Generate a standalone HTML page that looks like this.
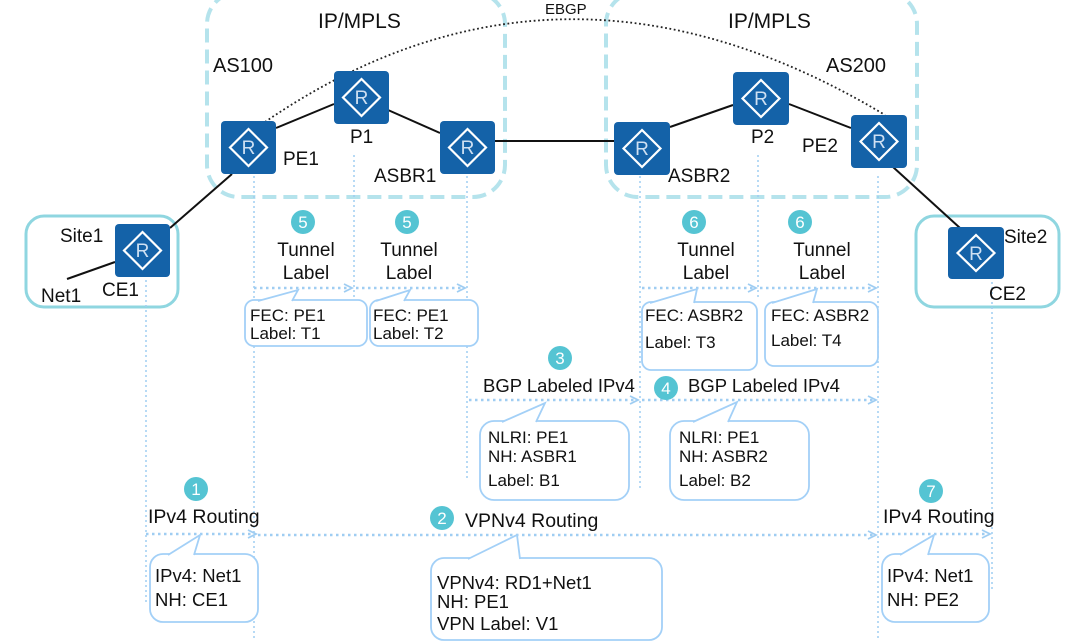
<!DOCTYPE html>
<html><head><meta charset="utf-8"><style>
html,body{margin:0;padding:0;background:#fff;}
svg{display:block;font-family:"Liberation Sans",sans-serif;}
</style></head><body>
<svg width="1070" height="643" viewBox="0 0 1070 643" xmlns="http://www.w3.org/2000/svg">
<rect x="207" y="-8" width="298" height="205" rx="32" fill="none" stroke="#b5e3ec" stroke-width="4" stroke-dasharray="14,7"/>
<rect x="606" y="-8" width="311" height="205" rx="32" fill="none" stroke="#b5e3ec" stroke-width="4" stroke-dasharray="14,7"/>
<rect x="26" y="216" width="152" height="91" rx="18" fill="none" stroke="#8fd6e0" stroke-width="3"/>
<rect x="916" y="216" width="143" height="91" rx="18" fill="none" stroke="#8fd6e0" stroke-width="3"/>
<path d="M265,122 Q560,-80 885,115" fill="none" stroke="#222" stroke-width="1.8" stroke-dasharray="1.8,2.6"/>
<g stroke="#111" stroke-width="2">
<line x1="67" y1="279" x2="115" y2="262"/>
<line x1="170" y1="228" x2="232" y2="174"/>
<line x1="276" y1="128" x2="334" y2="104"/>
<line x1="388" y1="110" x2="440" y2="133"/>
<line x1="495" y1="141" x2="614" y2="141"/>
<line x1="670" y1="127" x2="733" y2="105"/>
<line x1="789" y1="104" x2="851" y2="128"/>
<line x1="893" y1="167" x2="960" y2="228"/>
</g>
<g stroke="#9fcdf2" stroke-width="1.5" stroke-dasharray="2,3">
<line x1="146" y1="280" x2="146" y2="605"/>
<line x1="254" y1="176" x2="254" y2="640"/>
<line x1="354" y1="155" x2="354" y2="300"/>
<line x1="467" y1="176" x2="467" y2="480"/>
<line x1="640" y1="176" x2="640" y2="490"/>
<line x1="758" y1="155" x2="758" y2="300"/>
<line x1="878" y1="176" x2="878" y2="640"/>
<line x1="992" y1="282" x2="992" y2="590"/>
</g>
<g stroke="#9fcdf2" stroke-width="2.5" stroke-dasharray="2.5,3.5" fill="none">
<line x1="254" y1="288" x2="350" y2="288"/>
<line x1="356" y1="288" x2="463" y2="288"/>
<line x1="642" y1="288" x2="754" y2="288"/>
<line x1="760" y1="288" x2="874" y2="288"/>
<line x1="469" y1="400" x2="636" y2="400"/>
<line x1="642" y1="400" x2="874" y2="400"/>
<line x1="146" y1="534" x2="254" y2="534"/>
<line x1="258" y1="535" x2="874" y2="535"/>
<line x1="880" y1="534" x2="988" y2="534"/>
</g>
<g stroke="#9fcdf2" stroke-width="1.8" fill="none">
<polyline points="344,284 352,288 344,292"/>
<polyline points="457,284 465,288 457,292"/>
<polyline points="748,284 756,288 748,292"/>
<polyline points="868,284 876,288 868,292"/>
<polyline points="630,396 638,400 630,404"/>
<polyline points="868,396 876,400 868,404"/>
<polyline points="248,530 256,534 248,538"/>
<polyline points="868,531 876,535 868,539"/>
<polyline points="982,530 990,534 982,538"/>
</g>
<g font-size="19" fill="#cfe0f2" text-anchor="middle">
<g transform="translate(115,224)"><rect width="55" height="53" rx="4" fill="#1462a8"/><polygon points="27.5,8 46,26.5 27.5,45 9,26.5" fill="none" stroke="#fff" stroke-width="2.2"/><text x="27.5" y="33">R</text></g>
<g transform="translate(221,121)"><rect width="55" height="53" rx="4" fill="#1462a8"/><polygon points="27.5,8 46,26.5 27.5,45 9,26.5" fill="none" stroke="#fff" stroke-width="2.2"/><text x="27.5" y="33">R</text></g>
<g transform="translate(334,71)"><rect width="55" height="53" rx="4" fill="#1462a8"/><polygon points="27.5,8 46,26.5 27.5,45 9,26.5" fill="none" stroke="#fff" stroke-width="2.2"/><text x="27.5" y="33">R</text></g>
<g transform="translate(440,121)"><rect width="55" height="53" rx="4" fill="#1462a8"/><polygon points="27.5,8 46,26.5 27.5,45 9,26.5" fill="none" stroke="#fff" stroke-width="2.2"/><text x="27.5" y="33">R</text></g>
<g transform="translate(614,122)"><rect width="56" height="53" rx="4" fill="#1462a8"/><polygon points="28,8 46.5,26.5 28,45 9.5,26.5" fill="none" stroke="#fff" stroke-width="2.2"/><text x="28" y="33">R</text></g>
<g transform="translate(733,72)"><rect width="56" height="53" rx="4" fill="#1462a8"/><polygon points="28,8 46.5,26.5 28,45 9.5,26.5" fill="none" stroke="#fff" stroke-width="2.2"/><text x="28" y="33">R</text></g>
<g transform="translate(851,115)"><rect width="56" height="53" rx="4" fill="#1462a8"/><polygon points="28,8 46.5,26.5 28,45 9.5,26.5" fill="none" stroke="#fff" stroke-width="2.2"/><text x="28" y="33">R</text></g>
<g transform="translate(948,227)"><rect width="56" height="52" rx="4" fill="#1462a8"/><polygon points="28,8 46.5,26 28,44 9.5,26" fill="none" stroke="#fff" stroke-width="2.2"/><text x="28" y="33">R</text></g>
</g>
<g fill="#fff" stroke="#a3d0f7" stroke-width="1.8">
<rect x="245" y="300" width="122" height="46" rx="9"/>
<rect x="370" y="300" width="108" height="46" rx="9"/>
<rect x="642" y="302" width="115" height="68" rx="9"/>
<rect x="765" y="302" width="113" height="64" rx="9"/>
<rect x="480" y="421" width="149" height="79" rx="14"/>
<rect x="670" y="421" width="139" height="79" rx="14"/>
<rect x="150" y="554" width="108" height="68" rx="13"/>
<rect x="431" y="558" width="231" height="82" rx="13"/>
<rect x="882" y="554" width="107" height="68" rx="13"/>
</g>
<g fill="#fff" stroke="#a3d0f7" stroke-width="1.8">
<polyline points="258,301 298,290 292,301"/>
<polyline points="376,301 410,290 404,301"/>
<polyline points="650,303 697,289 694,303"/>
<polyline points="772,303 817,289 813,303"/>
<polyline points="502,422 545,403 536,422"/>
<polyline points="693,422 737,402 728,422"/>
<polyline points="168,555 200,535 194,555"/>
<polyline points="468,559 517,535 520,559"/>
<polyline points="900,555 934,535 928,555"/>
</g>
<g fill="#55c4d3">
<circle cx="303" cy="222" r="12"/><circle cx="407" cy="222" r="12"/>
<circle cx="694" cy="222" r="12"/><circle cx="800" cy="222" r="12"/>
<circle cx="560" cy="358" r="12"/><circle cx="666" cy="388" r="12"/>
<circle cx="196" cy="489" r="12"/><circle cx="442" cy="518" r="12"/>
<circle cx="931" cy="491" r="12"/>
</g>
<g fill="#fff" font-size="17" text-anchor="middle">
<text x="303" y="228">5</text><text x="407" y="228">5</text>
<text x="694" y="228">6</text><text x="800" y="228">6</text>
<text x="560" y="364">3</text><text x="666" y="394">4</text>
<text x="196" y="495">1</text><text x="442" y="524">2</text>
<text x="931" y="497">7</text>
</g>
<g fill="#111" font-size="19">
<text x="318" y="28" font-size="21">IP/MPLS</text>
<text x="728" y="28" font-size="21">IP/MPLS</text>
<text x="545" y="14" font-size="15">EBGP</text>
<text x="213" y="72" font-size="20">AS100</text>
<text x="826" y="72" font-size="20">AS200</text>
<text x="283" y="165">PE1</text>
<text x="350" y="143">P1</text>
<text x="374" y="182">ASBR1</text>
<text x="668" y="182">ASBR2</text>
<text x="751" y="143">P2</text>
<text x="802" y="152">PE2</text>
<text x="60" y="242">Site1</text>
<text x="41" y="302">Net1</text>
<text x="102" y="296">CE1</text>
<text x="1004" y="243">Site2</text>
<text x="989" y="300">CE2</text>
<g text-anchor="middle">
<text x="306" y="256">Tunnel</text><text x="306" y="279">Label</text>
<text x="409" y="256">Tunnel</text><text x="409" y="279">Label</text>
<text x="706" y="256">Tunnel</text><text x="706" y="279">Label</text>
<text x="822" y="256">Tunnel</text><text x="822" y="279">Label</text>
</g>
<text x="483" y="392" font-size="18.5">BGP Labeled IPv4</text>
<text x="688" y="392" font-size="18.5">BGP Labeled IPv4</text>
<text x="148" y="523" font-size="19.5">IPv4 Routing</text>
<text x="465" y="527" font-size="19.5">VPNv4 Routing</text>
<text x="883" y="523" font-size="19.5">IPv4 Routing</text>
<g font-size="17">
<text x="250" y="321">FEC: PE1</text><text x="250" y="339">Label: T1</text>
<text x="373" y="321">FEC: PE1</text><text x="373" y="339">Label: T2</text>
<text x="645" y="321">FEC: ASBR2</text><text x="645" y="348">Label: T3</text>
<text x="771" y="321">FEC: ASBR2</text><text x="771" y="346">Label: T4</text>
<text x="488" y="443">NLRI: PE1</text><text x="488" y="462">NH: ASBR1</text><text x="488" y="486">Label: B1</text>
<text x="679" y="443">NLRI: PE1</text><text x="679" y="462">NH: ASBR2</text><text x="679" y="486">Label: B2</text>
</g>
<g font-size="18.5">
<text x="155" y="582">IPv4: Net1</text><text x="155" y="606">NH: CE1</text>
<text x="437" y="589">VPNv4: RD1+Net1</text><text x="437" y="608">NH: PE1</text><text x="437" y="630">VPN Label: V1</text>
<text x="887" y="582">IPv4: Net1</text><text x="887" y="606">NH: PE2</text>
</g>
</g>
</svg>
</body></html>
